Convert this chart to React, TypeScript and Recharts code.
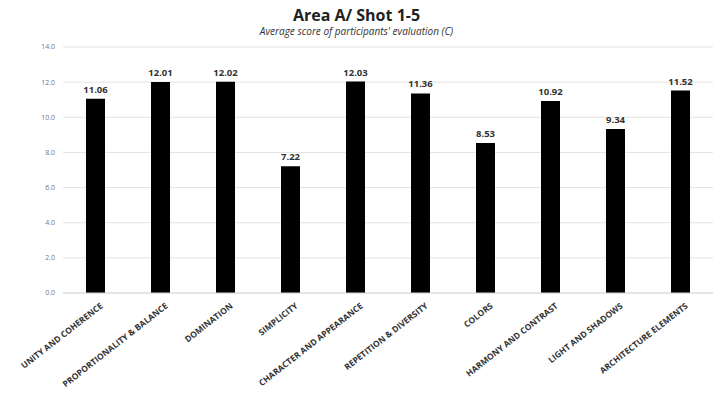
import { BarChart, Bar, XAxis, YAxis, CartesianGrid, LabelList } from 'recharts'

const categories = [
  'UNITY AND COHERENCE',
  'PROPORTIONALITY & BALANCE',
  'DOMINATION',
  'SIMPLICITY',
  'CHARACTER AND APPEARANCE',
  'REPETITION & DIVERSITY',
  'COLORS',
  'HARMONY AND CONTRAST',
  'LIGHT AND SHADOWS',
  'ARCHITECTURE ELEMENTS'
]

const scores = [11.06, 12.01, 12.02, 7.22, 12.03, 11.36, 8.53, 10.92, 9.34, 11.52]

const yTicks = [0, 2, 4, 6, 8, 10, 12, 14]

const data = categories.map((name, i) => ({ name, value: scores[i] }))

const FONT = '"Open Sans", "Liberation Sans", sans-serif'

const AngledTick = ({ x, y, payload }: any) => (
  <g transform={`translate(${x + 8},${y + 6})`}>
    <text
      textAnchor="end"
      transform="rotate(-38)"
      fontSize={8.5}
      fontWeight={700}
      fill="#333"
      fontFamily={FONT}
    >
      {payload.value}
    </text>
  </g>
)

export default function App() {
  return (
    <div style={{ position: 'absolute', left: 0, top: 0, width: 713, height: 403, background: '#fff', fontFamily: FONT }}>
      <div style={{ position: 'absolute', top: 4, width: 713, textAlign: 'center', fontSize: 16, fontWeight: 700, color: '#222' }}>
        Area A/ Shot 1-5
      </div>
      <div style={{ position: 'absolute', top: 24, width: 713, textAlign: 'center', fontSize: 10, fontStyle: 'italic', color: '#333' }}>
        Average score of participants' evaluation (C)
      </div>
      <BarChart
        width={713}
        height={403}
        data={data}
        margin={{ top: 47, right: 0, left: 0, bottom: 0 }}
        barCategoryGap={23}
      >
        <CartesianGrid vertical={false} stroke="#e3e3e3" />
        <XAxis
          dataKey="name"
          interval={0}
          tick={<AngledTick />}
          tickLine={false}
          axisLine={{ stroke: '#d9d9d9' }}
          height={110}
        />
        <YAxis
          domain={[0, 14]}
          ticks={yTicks}
          tickFormatter={(v: number) => v.toFixed(1)}
          tick={{ fontSize: 7, fill: '#777', fontFamily: FONT }}
          axisLine={false}
          tickLine={false}
          width={63}
        />
        <Bar dataKey="value" fill="#000" isAnimationActive={false}>
          <LabelList
            dataKey="value"
            position="top"
            offset={6}
            formatter={(v: any) => Number(v).toFixed(2)}
            style={{ fontSize: 9.5, fontWeight: 700, fill: '#333', fontFamily: FONT }}
          />
        </Bar>
      </BarChart>
    </div>
  )
}
